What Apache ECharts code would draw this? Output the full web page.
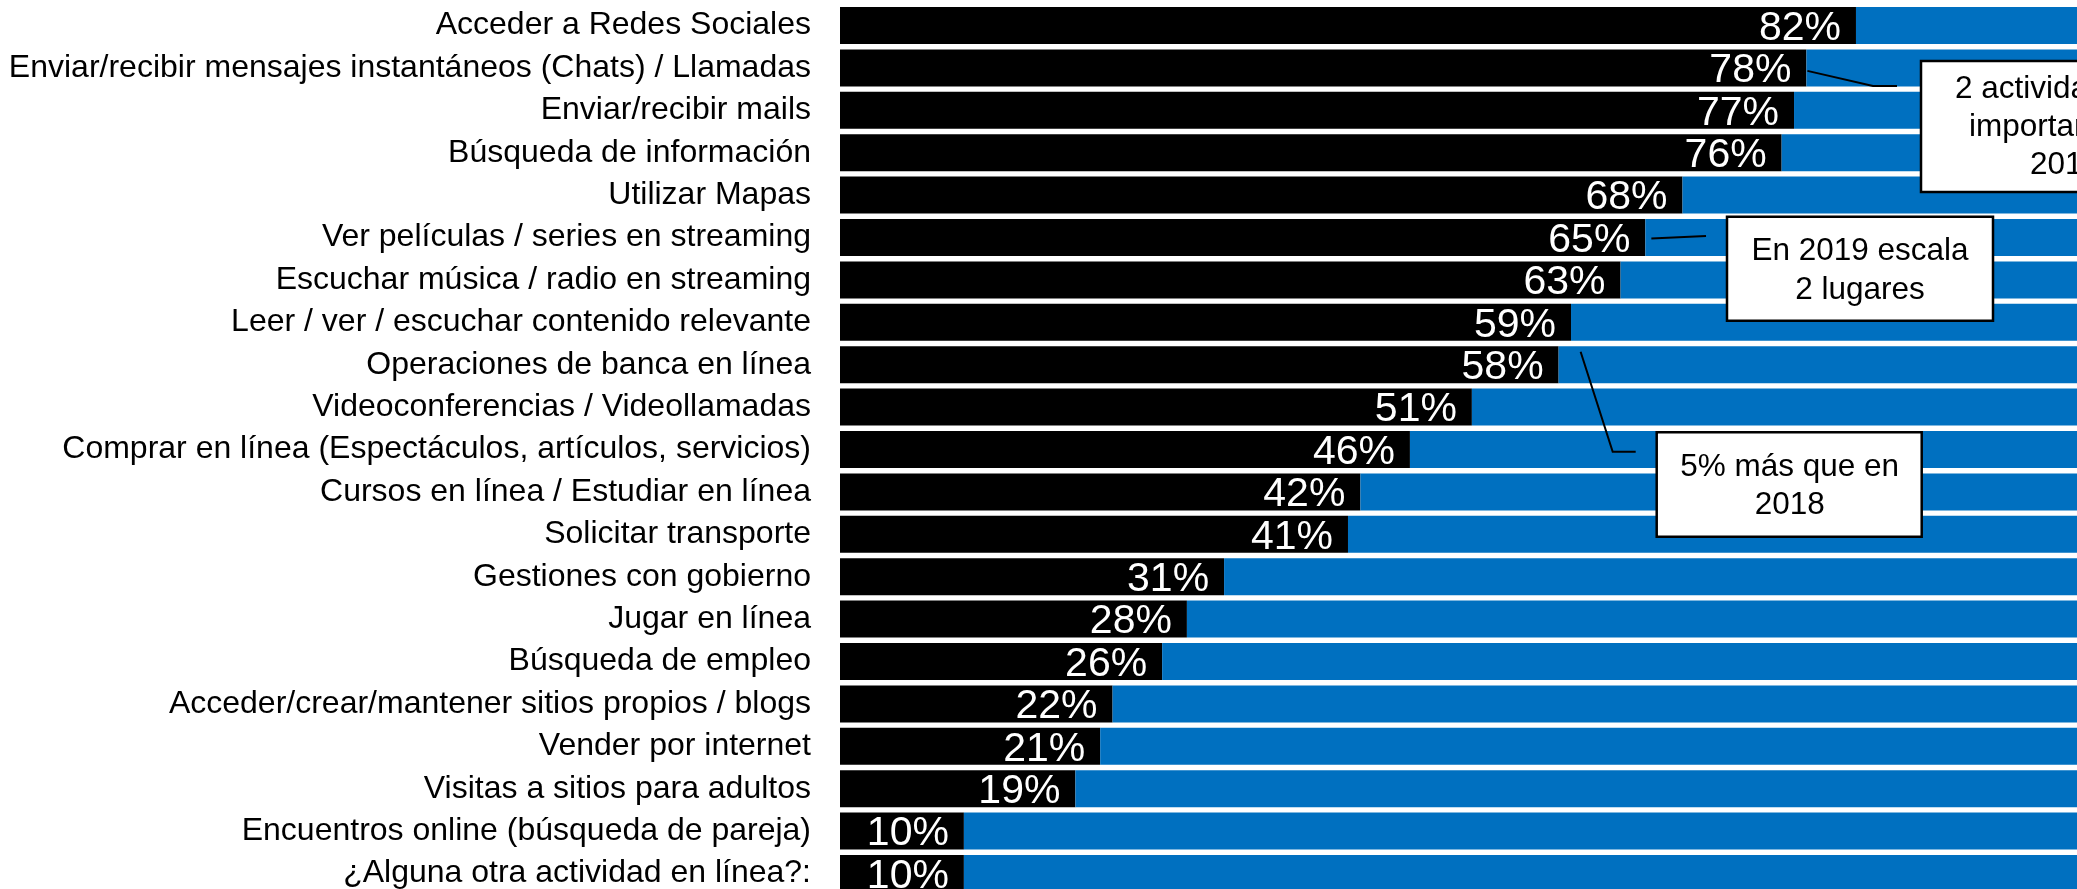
<!DOCTYPE html>
<html>
<head>
<meta charset="utf-8">
<script src="https://cdn.jsdelivr.net/npm/echarts@6/dist/echarts.min.js"></script>
<style>
  html, body { margin: 0; padding: 0; background: #fff; }
  #chart { width: 2077px; height: 889px; }
</style>
</head>
<body>
<div id="chart"></div>
<script>
const categories = [
  'Acceder a Redes Sociales',
  'Enviar/recibir mensajes instantáneos (Chats) / Llamadas',
  'Enviar/recibir mails',
  'Búsqueda de información',
  'Utilizar Mapas',
  'Ver películas / series en streaming',
  'Escuchar música / radio en streaming',
  'Leer / ver / escuchar contenido relevante',
  'Operaciones de banca en línea',
  'Videoconferencias / Videollamadas',
  'Comprar en línea (Espectáculos, artículos, servicios)',
  'Cursos en línea / Estudiar en línea',
  'Solicitar transporte',
  'Gestiones con gobierno',
  'Jugar en línea',
  'Búsqueda de empleo',
  'Acceder/crear/mantener sitios propios / blogs',
  'Vender por internet',
  'Visitas a sitios para adultos',
  'Encuentros online (búsqueda de pareja)',
  '¿Alguna otra actividad en línea?:'
]
const values = [82, 78, 77, 76, 68, 65, 63, 59, 58, 51, 46, 42, 41, 31, 28, 26, 22, 21, 19, 10, 10]
const remainder = values.map(v => 100 - v)

const FONT = '"Liberation Sans", Arial, sans-serif'

const chart = echarts.init(document.getElementById('chart'))

chart.setOption({
  animation: false,
  grid: {
    left: 840,
    top: 4.3,
    width: 1239,
    height: 890.4,
    outerBoundsMode: 'none'
  },
  xAxis: {
    type: 'value',
    min: 0,
    max: 100,
    show: false
  },
  yAxis: {
    type: 'category',
    inverse: true,
    data: categories,
    axisLine: { show: false },
    axisTick: { show: false },
    axisLabel: {
      margin: 29,
      fontSize: 32,
      color: '#000',
      fontFamily: FONT
    }
  },
  series: [
    {
      type: 'bar',
      stack: 'total',
      data: values,
      barCategoryGap: '12.7%',
      itemStyle: { color: '#000' },
      label: {
        show: true,
        position: 'insideRight',
        distance: 15,
        offset: [0, 3],
        formatter: '{c}%',
        color: '#fff',
        fontSize: 41,
        fontFamily: FONT
      }
    },
    {
      type: 'bar',
      stack: 'total',
      data: remainder,
      barCategoryGap: '12.7%',
      itemStyle: { color: '#0070C0' }
    }
  ]
})

// puntos de inicio de las líneas guía, anclados al final de cada barra
const endOf = i => chart.convertToPixel({ seriesIndex: 0 }, [values[i], i])
const p1 = endOf(1)
const p2 = endOf(5)
const p3 = endOf(8)

const lineStyle = { stroke: '#000', lineWidth: 2, fill: null }
const boxStyle = { fill: '#fff', stroke: '#000', lineWidth: 2.5 }
const textStyle = (extra) => Object.assign({ fill: '#000', fontSize: 31.5, fontFamily: FONT, verticalAlign: 'middle' }, extra)

const notes = [
  // 2 actividades...
  { type: 'polyline', shape: { points: [[p1[0] + 1, p1[1] + 3], [1873, 86], [1897, 86]] }, style: lineStyle },
  { type: 'rect', shape: { x: 1921, y: 61, width: 260, height: 131 }, style: boxStyle },
  { type: 'text', x: 1955, y: 89, style: textStyle({ text: '2 actividades más' }) },
  { type: 'text', x: 1969, y: 127, style: textStyle({ text: 'importantes en' }) },
  { type: 'text', x: 2030, y: 165, style: textStyle({ text: '2019' }) },

  // En 2019 escala 2 lugares
  { type: 'polyline', shape: { points: [[p2[0] + 6, p2[1] + 1], [1706, 236]] }, style: lineStyle },
  { type: 'rect', shape: { x: 1727, y: 216.7, width: 266, height: 104 }, style: boxStyle },
  { type: 'text', x: 1860, y: 271, style: textStyle({ text: 'En 2019 escala\n2 lugares', align: 'center', lineHeight: 38.5 }) },

  // 5% más que en 2018
  { type: 'polyline', shape: { points: [[p3[0] + 22, p3[1] - 13], [1612.7, 451.7], [1635.7, 451.7]] }, style: lineStyle },
  { type: 'rect', shape: { x: 1656.7, y: 432.3, width: 265, height: 104.4 }, style: boxStyle },
  { type: 'text', x: 1789.7, y: 486.5, style: textStyle({ text: '5% más que en\n2018', align: 'center', lineHeight: 38 }) }
]

chart.setOption({
  graphic: notes.map((g, i) => Object.assign({ z: 100 + i }, g))
})

window.addEventListener('resize', () => chart.resize())
</script>
</body>
</html>
